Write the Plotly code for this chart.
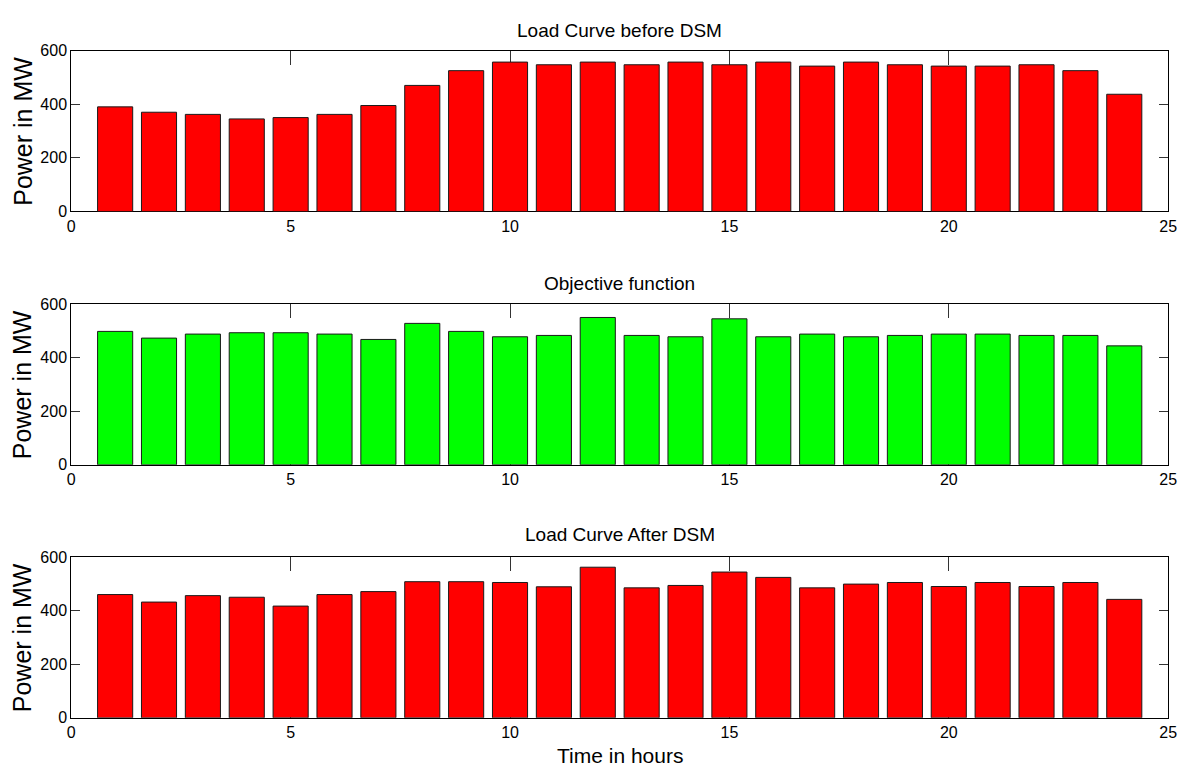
import plotly.graph_objects as go

# Hourly demand (MW) for a 24-hour day
hours = list(range(1, 25))
load_before = [390, 370, 362, 345, 350, 362, 395, 470, 525, 557, 547, 557,
               547, 557, 547, 557, 542, 557, 547, 542, 542, 547, 525, 437]
objective = [498, 473, 488, 493, 493, 488, 468, 528, 498, 478, 483, 550,
             483, 478, 545, 478, 488, 478, 483, 488, 488, 483, 483, 444]
load_after = [460, 432, 456, 450, 417, 460, 471, 508, 508, 505, 489, 562,
              485, 494, 544, 524, 485, 499, 505, 490, 505, 490, 505, 442]

titles = ["Load Curve before DSM", "Objective function", "Load Curve After DSM"]
x_ticks = [0, 5, 10, 15, 20, 25]
y_ticks = [0, 200, 400, 600]

W, H = 1191, 778
font = "Liberation Sans, Arial, Helvetica"

# pixel frames of the three panels: (top, bottom)
left_px, right_px = 68, 1177
panels = [(43.5, 208), (302.7, 467), (561.3, 725.7)]
title_y = [22.5, 281.5, 538.5]

series = [(load_before, "#FF0000"), (objective, "#00FF00"), (load_after, "#FF0000")]

fig = go.Figure()
layout = dict(
    width=W, height=H,
    margin=dict(l=0, r=0, t=0, b=0),
    paper_bgcolor="white", plot_bgcolor="white",
    showlegend=False, bargap=0.2,
    annotations=[],
)

xdom = [left_px / W, right_px / W]
for i, ((vals, col), (top, bot)) in enumerate(zip(series, panels)):
    n = "" if i == 0 else str(i + 1)
    fig.add_trace(go.Bar(
        x=hours, y=vals, width=0.8,
        marker=dict(color=col, line=dict(color="#1a1a1a", width=1)),
        xaxis="x" + n, yaxis="y" + n,
    ))
    layout["xaxis" + n] = dict(
        domain=xdom, anchor="y" + n, range=[0, 25],
        tickvals=x_ticks, ticks="inside", ticklen=14, tickwidth=1,
        tickcolor="#333333", showline=True, linecolor="black", linewidth=1,
        mirror="ticks", showgrid=False, zeroline=False, layer="below traces",
        tickfont=dict(family=font, size=16, color="black"),
    )
    layout["yaxis" + n] = dict(
        domain=[1 - bot / H, 1 - top / H], anchor="x" + n, range=[0, 600],
        tickvals=y_ticks, ticks="inside", ticklen=9, tickwidth=1,
        tickcolor="#333333", showline=True, linecolor="black", linewidth=1,
        mirror="ticks", showgrid=False, zeroline=False, layer="below traces",
        tickfont=dict(family=font, size=16, color="black"),
    )
    layout["annotations"].append(dict(
        text=titles[i], xref="paper", yref="paper",
        x=(left_px + right_px) / 2 / W, y=1 - title_y[i] / H,
        xanchor="center", yanchor="middle", showarrow=False,
        font=dict(family=font, size=19, color="black"),
    ))
    layout["annotations"].append(dict(
        text="Power in MW", xref="paper", yref="paper",
        x=19 / W, y=1 - (top + bot) / 2 / H, textangle=-90,
        xanchor="center", yanchor="middle", showarrow=False,
        font=dict(family=font, size=25, color="black"),
    ))

layout["annotations"].append(dict(
    text="Time in hours", xref="paper", yref="paper",
    x=(left_px + right_px) / 2 / W, y=1 - 764 / H,
    xanchor="center", yanchor="middle", showarrow=False,
    font=dict(family=font, size=21, color="black"),
))

fig.update_layout(**layout)
fig.write_html("out.html")
